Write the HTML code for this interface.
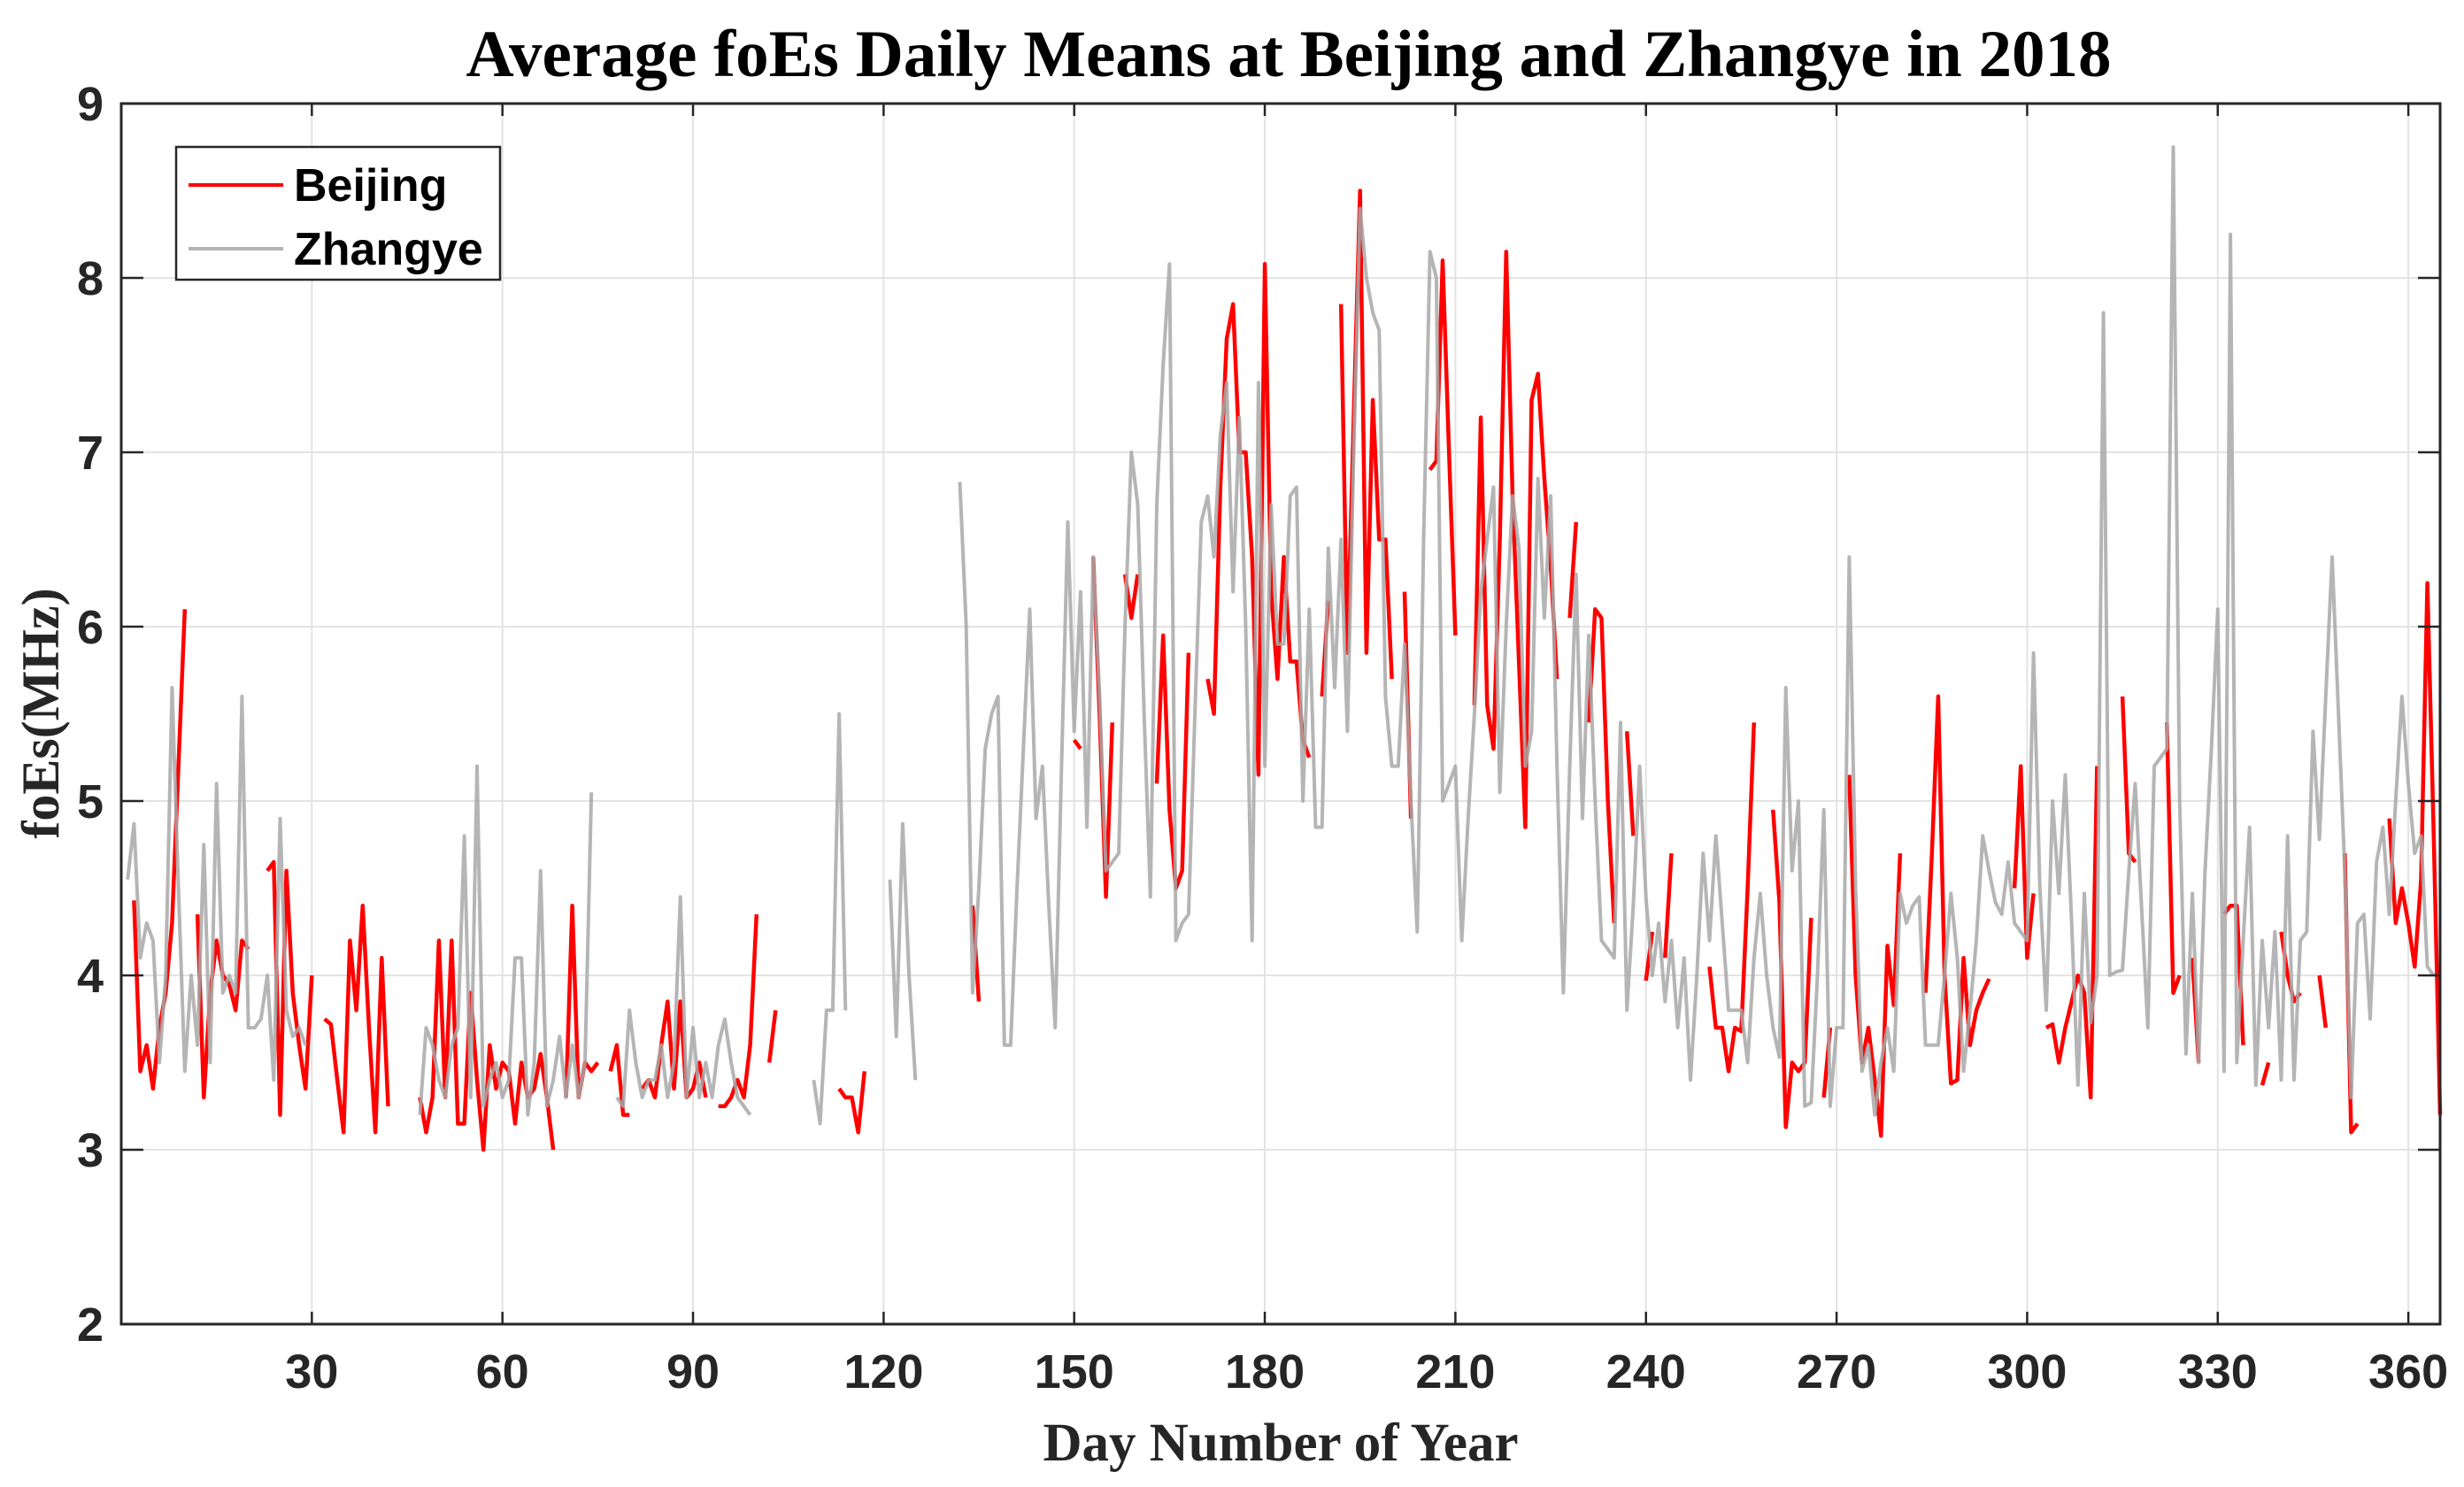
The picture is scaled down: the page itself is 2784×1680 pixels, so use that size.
<!DOCTYPE html>
<html><head><meta charset="utf-8"><style>
html,body{margin:0;padding:0;background:#fff;}
svg{display:block;}
</style></head><body>
<svg id="chart" xmlns="http://www.w3.org/2000/svg" width="2784" height="1680" viewBox="0 0 2784 1680">
<rect x="0" y="0" width="2784" height="1680" fill="#fff"/>
<g id="grid"></g>
<g id="series"></g>
<g id="axes"></g>
<text x="1456" y="86" text-anchor="middle" font-family="Liberation Serif, serif" font-weight="bold" font-size="75" fill="#000">Average foEs Daily Means at Beijing and Zhangye in 2018</text>
<text x="1447" y="1650" text-anchor="middle" font-family="Liberation Serif, serif" font-weight="bold" font-size="61" fill="#262626">Day Number of Year</text>
<text transform="translate(66,806) rotate(-90)" text-anchor="middle" font-family="Liberation Serif, serif" font-weight="bold" font-size="60" fill="#262626">foEs(MHz)</text>
<g>
<rect x="199" y="166" width="366" height="150" fill="#fff" stroke="#262626" stroke-width="2.5"/>
<line x1="213" y1="209" x2="320" y2="209" stroke="#ff0000" stroke-width="4"/>
<text x="332" y="227" font-family="Liberation Sans, sans-serif" font-weight="bold" font-size="52" fill="#000">Beijing</text>
<line x1="213" y1="281" x2="320" y2="281" stroke="#b4b4b4" stroke-width="4"/>
<text x="332" y="299" font-family="Liberation Sans, sans-serif" font-weight="bold" font-size="52" fill="#000">Zhangye</text>
</g>
</svg>
<script>
const xTicks = [30,60,90,120,150,180,210,240,270,300,330,360];
const yTicks = [2,3,4,5,6,7,8,9];
const beijing = [null,4.43,3.45,3.6,3.35,3.7,3.9,4.3,5.2,6.1,
null,4.35,3.3,3.9,4.2,4.0,3.95,3.8,4.2,4.15,
null,null,4.6,4.65,3.2,4.6,3.9,3.6,3.35,4.0,
null,3.75,3.72,3.4,3.1,4.2,3.8,4.4,3.7,3.1,
4.1,3.25,null,null,null,null,3.3,3.1,3.3,4.2,
3.3,4.2,3.15,3.15,3.9,3.4,3.0,3.6,3.35,3.5,
3.45,3.15,3.5,3.3,3.35,3.55,3.3,3.0,null,3.3,
4.4,3.3,3.5,3.45,3.5,null,3.45,3.6,3.2,3.2,
null,3.35,3.4,3.3,3.6,3.85,3.35,3.85,3.3,3.35,
3.5,3.3,null,3.25,3.25,3.3,3.4,3.3,3.6,4.35,
null,3.5,3.8,null,null,null,null,null,null,null,
null,null,3.35,3.3,3.3,3.1,3.45,null,null,null,
null,null,null,null,null,null,null,null,null,null,
null,null,null,4.4,3.85,null,null,null,null,null,
null,null,null,null,null,null,null,null,null,5.35,
5.3,null,6.4,5.5,4.45,5.45,null,6.3,6.05,6.3,
null,null,5.1,5.95,4.95,4.5,4.6,5.85,null,null,
5.7,5.5,6.8,7.65,7.85,7.0,7.0,6.4,5.15,8.08,
6.2,5.7,6.4,5.8,5.8,5.35,5.25,null,5.6,6.15,
null,7.85,5.85,7.2,8.5,5.85,7.3,6.5,6.5,5.7,
null,6.2,4.9,null,null,6.9,6.95,8.1,7.0,5.95,
null,null,5.55,7.2,5.55,5.3,6.5,8.15,6.75,5.8,
4.85,7.3,7.45,6.85,6.35,5.7,null,6.05,6.6,null,
5.45,6.1,6.05,5.0,4.3,null,5.4,4.8,null,3.97,
4.25,null,4.1,4.7,null,null,null,null,null,4.05,
3.7,3.7,3.45,3.7,3.68,4.5,5.45,null,null,4.95,
4.42,3.13,3.5,3.45,3.5,4.33,null,3.3,3.7,null,
null,5.15,4.0,3.5,3.7,3.4,3.08,4.17,3.83,4.7,
null,null,null,3.9,4.7,5.6,4.0,3.38,3.4,4.1,
3.6,3.8,3.9,3.98,null,null,null,4.5,5.2,4.1,
4.47,null,3.7,3.72,3.5,3.7,3.85,4.0,3.9,3.3,
5.2,null,null,null,5.6,4.7,4.65,null,null,null,
null,5.45,3.9,4.0,null,4.1,3.5,null,null,null,
4.35,4.4,4.4,3.6,null,null,3.37,3.5,null,4.25,
4.0,3.85,3.9,null,null,4.0,3.7,null,null,4.7,
3.1,3.15,null,null,null,null,4.9,4.3,4.5,4.3,
4.05,4.55,6.25,4.8,3.2];
const zhangye = [4.55,4.87,4.1,4.3,4.2,3.5,4.0,5.65,4.5,3.45,
4.0,3.6,4.75,3.5,5.1,3.9,4.0,3.9,5.6,3.7,
3.7,3.75,4.0,3.4,4.9,3.8,3.65,3.7,3.6,null,
null,null,null,null,null,null,null,null,null,null,
null,null,null,null,null,null,3.2,3.7,3.6,3.4,
3.3,3.6,3.7,4.8,3.3,5.2,3.25,3.4,3.5,3.3,
3.4,4.1,4.1,3.2,3.5,4.6,3.25,3.4,3.65,3.3,
3.6,3.3,3.5,5.05,null,null,null,3.3,3.25,3.8,
3.5,3.3,3.4,3.4,3.6,3.3,3.5,4.45,3.3,3.7,
3.3,3.5,3.3,3.6,3.75,3.5,3.3,3.25,3.2,null,
null,null,null,null,null,null,null,null,3.4,3.15,
3.8,3.8,5.5,3.8,null,null,null,null,null,null,
4.55,3.65,4.87,4.0,3.4,null,null,null,null,null,
null,6.83,6.0,3.9,4.5,5.3,5.5,5.6,3.6,3.6,
4.5,5.3,6.1,4.9,5.2,4.4,3.7,5.2,6.6,5.4,
6.2,4.85,6.4,5.6,4.6,4.65,4.7,6.0,7.0,6.7,
5.5,4.45,6.7,7.5,8.08,4.2,4.3,4.35,5.5,6.6,
6.75,6.4,7.1,7.4,6.2,7.2,6.0,4.2,7.4,5.2,
6.7,5.9,5.9,6.75,6.8,5.0,6.1,4.85,4.85,6.45,
5.65,6.5,5.4,7.0,8.4,8.0,7.8,7.7,5.6,5.2,
5.2,5.9,5.0,4.25,6.5,8.15,8.0,5.0,5.1,5.2,
4.2,4.9,5.5,6.2,6.5,6.8,5.05,6.0,6.75,6.45,
5.2,5.4,6.85,6.05,6.75,5.2,3.9,5.2,6.3,4.9,
5.95,5.0,4.2,4.15,4.1,5.45,3.8,4.4,5.2,4.45,
4.0,4.3,3.85,4.2,3.7,4.1,3.4,4.0,4.7,4.2,
4.8,4.3,3.8,3.8,3.8,3.5,4.1,4.47,4.0,3.7,
3.53,5.65,4.6,5.0,3.25,3.27,4.0,4.95,3.25,3.7,
3.7,6.4,4.5,3.45,3.6,3.2,3.5,3.7,3.45,4.47,
4.3,4.4,4.45,3.6,3.6,3.6,4.0,4.47,4.1,3.45,
3.8,4.2,4.8,4.6,4.42,4.35,4.65,4.3,4.25,4.2,
5.85,4.5,3.8,5.0,4.47,5.15,4.3,3.37,4.47,3.73,
4.0,7.8,4.0,4.02,4.03,4.6,5.1,4.4,3.7,5.2,
5.25,5.3,8.75,5.0,3.55,4.47,3.5,4.6,5.3,6.1,
3.45,8.25,3.5,4.2,4.85,3.37,4.2,3.7,4.25,3.4,
4.8,3.4,4.2,4.25,5.4,4.78,5.6,6.4,5.5,4.6,
3.3,4.3,4.35,3.75,4.65,4.85,4.35,5.0,5.6,5.1,
4.7,4.8,4.05,4.0,null];

const NS = 'http://www.w3.org/2000/svg';
const L = 137, R = 2757, T = 117, B = 1496;
const XMIN = 0, XMAX = 365, YMIN = 2, YMAX = 9;
function xs(d){ return L + (d - XMIN) / (XMAX - XMIN) * (R - L); }
function ys(v){ return B - (v - YMIN) / (YMAX - YMIN) * (B - T); }
function mk(tag, attrs, parent){
  const el = document.createElementNS(NS, tag);
  for (const k in attrs) el.setAttribute(k, attrs[k]);
  parent.appendChild(el);
  return el;
}
const grid = document.getElementById('grid');
const axes = document.getElementById('axes');
const series = document.getElementById('series');

xTicks.forEach(t => {
  const g = mk('line', {x1: xs(t), x2: xs(t), y1: T, y2: B, stroke: '#e3e3e3', 'stroke-width': 2}, grid);
  
  
  const tk1 = mk('line', {x1: xs(t), x2: xs(t), y1: B, y2: B - 14, stroke: '#262626', 'stroke-width': 2.5}, axes);
  
  
  const tk2 = mk('line', {x1: xs(t), x2: xs(t), y1: T, y2: T + 14, stroke: '#262626', 'stroke-width': 2.5}, axes);
  
  
  const lb = mk('text', {x: xs(t), y: B + 72, 'text-anchor': 'middle', 'font-family': 'Liberation Sans, sans-serif', 'font-weight': 'bold', 'font-size': 54, fill: '#262626'}, axes);
  lb.textContent = t;
  
  
});
yTicks.forEach(t => {
  if (t > YMIN && t < YMAX) {
    const g = mk('line', {x1: L, x2: R, y1: ys(t), y2: ys(t), stroke: '#e3e3e3', 'stroke-width': 2}, grid);
    
    
  }
  const tk1 = mk('line', {x1: L, x2: L + 25, y1: ys(t), y2: ys(t), stroke: '#262626', 'stroke-width': 2.5}, axes);
  
  
  const tk2 = mk('line', {x1: R, x2: R - 25, y1: ys(t), y2: ys(t), stroke: '#262626', 'stroke-width': 2.5}, axes);
  
  
  const lb = mk('text', {x: L - 20, y: ys(t) + 19, 'text-anchor': 'end', 'font-family': 'Liberation Sans, sans-serif', 'font-weight': 'bold', 'font-size': 54, fill: '#262626'}, axes);
  lb.textContent = t;
  
  
});
const box = mk('rect', {x: L, y: T, width: R - L, height: B - T, fill: 'none', stroke: '#262626', 'stroke-width': 3}, axes);



function pathFor(vals){
  let d = '', pen = false;
  vals.forEach((v, i) => {
    if (v === null || v === undefined) { pen = false; return; }
    d += (pen ? 'L' : 'M') + xs(i + 1).toFixed(1) + ' ' + ys(v).toFixed(1) + ' ';
    pen = true;
  });
  return d;
}
const pb = mk('path', {d: pathFor(beijing), fill: 'none', stroke: '#ff0000', 'stroke-width': 4.5, 'stroke-linejoin': 'round'}, series);


const pz = mk('path', {d: pathFor(zhangye), fill: 'none', stroke: '#a8a8a8', 'stroke-opacity': 0.85, 'stroke-width': 4, 'stroke-linejoin': 'round'}, series);


</script>
</body></html>
